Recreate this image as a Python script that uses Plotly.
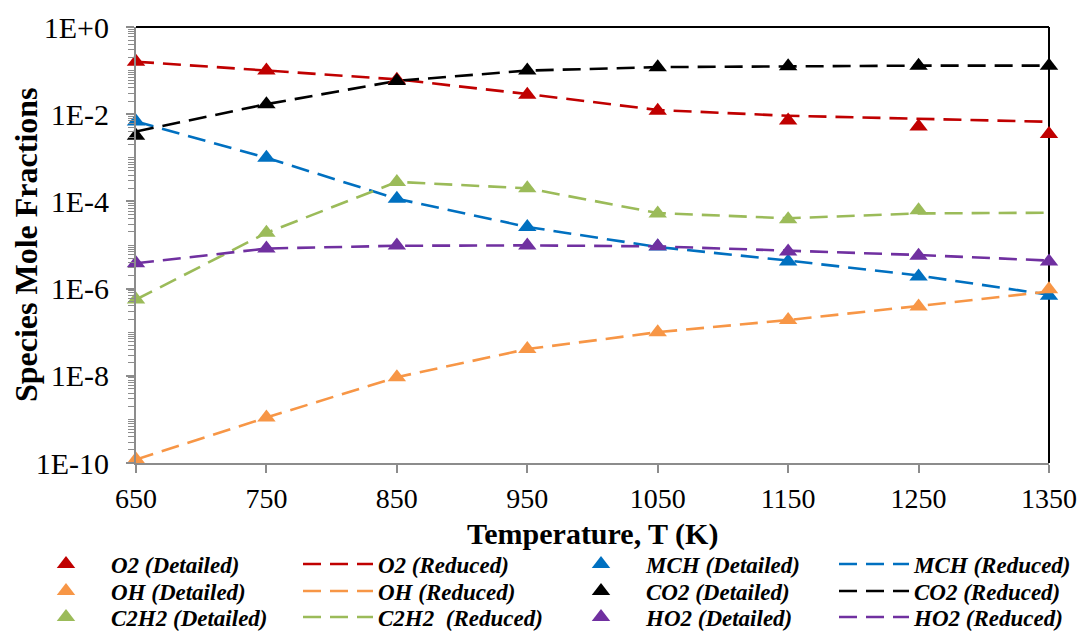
import plotly.graph_objects as go

# ---------------- data ----------------
temperature = [650, 750, 850, 950, 1050, 1150, 1250, 1350]

o2_detailed = [0.16, 0.10, 0.062, 0.028, 0.012, 0.0072, 0.0052, 0.0035]
o2_reduced = [0.16, 0.10, 0.063, 0.029, 0.0125, 0.0092, 0.0079, 0.0067]

mch_detailed = [0.0068, 0.001, 1.15e-4, 2.6e-5, 9.2e-6, 4.2e-6, 1.9e-6, 6.9e-7]
mch_reduced = [0.0068, 0.001, 1.15e-4, 2.6e-5, 9.0e-6, 4.4e-6, 2.0e-6, 7.2e-7]

oh_detailed = [1.2e-10, 1.1e-9, 9.3e-9, 4.1e-8, 1.0e-7, 1.9e-7, 3.9e-7, 9.6e-7]
oh_reduced = [1.2e-10, 1.1e-9, 9.3e-9, 4.1e-8, 1.0e-7, 1.9e-7, 4.0e-7, 8.6e-7]

co2_detailed = [0.0032, 0.017, 0.058, 0.10, 0.12, 0.125, 0.13, 0.13]
co2_reduced = [0.0040, 0.017, 0.058, 0.10, 0.12, 0.125, 0.13, 0.13]

c2h2_detailed = [5.6e-7, 1.9e-5, 2.8e-4, 2.0e-4, 5.3e-5, 3.9e-5, 6.3e-5, None]
c2h2_reduced = [5.6e-7, 1.9e-5, 2.8e-4, 2.0e-4, 5.4e-5, 4.1e-5, 5.3e-5, 5.5e-5]

ho2_detailed = [3.8e-6, 8.3e-6, 9.8e-6, 9.8e-6, 9.3e-6, 7.1e-6, 5.7e-6, 4.2e-6]
ho2_reduced = [3.8e-6, 8.3e-6, 9.6e-6, 9.8e-6, 9.3e-6, 7.5e-6, 5.9e-6, 4.4e-6]

y_tickvals = [1e0, 1e-2, 1e-4, 1e-6, 1e-8, 1e-10]
y_ticktext = ["1E+0", "1E-2", "1E-4", "1E-6", "1E-8", "1E-10"]
x_tickvals = [650, 750, 850, 950, 1050, 1150, 1250, 1350]

x_title = "Temperature, T (K)"
y_title = "Species Mole Fractions"

# ---------------- styling ----------------
FONT = "Liberation Serif, Times New Roman, serif"
C_O2, C_OH, C_C2H2 = "#C00000", "#F79646", "#9BBB59"
C_MCH, C_CO2, C_HO2 = "#0070C0", "#000000", "#7030A0"
GRAY = "#8C8C8C"
DASH = "18px,9px"

# plot area in pixels
L, R, T, B = 136, 1049.5, 27, 463.3
W, H = 1090, 632


def cx(p):
    return p / W


def cy(p):
    return 1 - p / H


def px(p):
    return (p - L) / (R - L)


def py(p):
    return (B - p) / (B - T)


series = [
    # (name, y, color, kind, legend column, legend row)
    ("O2 (Detailed)", o2_detailed, C_O2, "m", 0, 0),
    ("O2 (Reduced)", o2_reduced, C_O2, "l", 1, 0),
    ("MCH (Detailed)", mch_detailed, C_MCH, "m", 2, 0),
    ("MCH (Reduced)", mch_reduced, C_MCH, "l", 3, 0),
    ("OH (Detailed)", oh_detailed, C_OH, "m", 0, 1),
    ("OH (Reduced)", oh_reduced, C_OH, "l", 1, 1),
    ("CO2 (Detailed)", co2_detailed, C_CO2, "m", 2, 1),
    ("CO2 (Reduced)", co2_reduced, C_CO2, "l", 3, 1),
    ("C2H2 (Detailed)", c2h2_detailed, C_C2H2, "m", 0, 2),
    ("C2H2  (Reduced)", c2h2_reduced, C_C2H2, "l", 1, 2),
    ("HO2 (Detailed)", ho2_detailed, C_HO2, "m", 2, 2),
    ("HO2 (Reduced)", ho2_reduced, C_HO2, "l", 3, 2),
]

col_text_x = [112, 379, 647, 915]
row_y = [564, 591, 617]

fig = go.Figure()
layout_legends = {}
order = [i for i, s in enumerate(series) if s[3] == "l"] + [i for i, s in enumerate(series) if s[3] == "m"]
for k in order:
    name, yv, col, kind, c, r = series[k]
    lg = "legend" if k == 0 else f"legend{k + 1}"
    if kind == "m":
        tr = go.Scatter(x=temperature, y=yv, mode="markers", name=name,
                        marker=dict(symbol="triangle-up", size=16, color=col),
                        cliponaxis=False, legend=lg)
        itemw = 80
    else:
        tr = go.Scatter(x=temperature, y=yv, mode="lines", name=name,
                        line=dict(color=col, width=2.6, dash=DASH),
                        cliponaxis=False, legend=lg)
        itemw = 70
    fig.add_trace(tr)
    leg_left = col_text_x[c] - (itemw + 10) - 1
    layout_legends[lg] = dict(
        x=cx(leg_left), y=cy(row_y[r]), xanchor="left", yanchor="middle",
        xref="container", yref="container",
        bgcolor="rgba(0,0,0,0)", borderwidth=0, itemwidth=itemw,
        font=dict(family=FONT, size=23, color="black", style="italic", weight="bold"),
        tracegroupgap=0,
    )

fig.update_layout(
    width=W, height=H,
    margin=dict(l=L, r=W - R, t=T, b=H - B, pad=0, autoexpand=False),
    paper_bgcolor="white", plot_bgcolor="white",
    font=dict(family=FONT, color="black"),
    showlegend=True,
    **layout_legends,
)

fig.update_xaxes(
    range=[650, 1350], tickvals=x_tickvals, ticks="outside", ticklen=8,
    tickwidth=1.5, tickcolor=GRAY, showline=True, linecolor=GRAY, linewidth=2,
    showgrid=False, zeroline=False, ticklabelstandoff=1,
    tickfont=dict(family=FONT, size=28, color="black"),
)
fig.update_yaxes(
    type="log", range=[-10, 0], tickvals=y_tickvals, ticktext=y_ticktext,
    ticks="outside", ticklen=8, tickwidth=1.5, tickcolor=GRAY,
    minor=dict(ticks="outside", ticklen=6, tickcolor=GRAY, tickwidth=1, dtick="D1", showgrid=False),
    showline=True, linecolor=GRAY, linewidth=2, showgrid=False, zeroline=False,
    ticklabelstandoff=11,
    tickfont=dict(family=FONT, size=30, color="black"),
)

# axis titles
fig.add_annotation(text=f"<b>{x_title}</b>", xref="paper", yref="paper",
                   x=0.5, y=py(534), xanchor="center", yanchor="middle", showarrow=False,
                   font=dict(family=FONT, size=30, color="black"))
fig.add_annotation(text=f"<b>{y_title}</b>", xref="paper", yref="paper",
                   x=px(26), y=0.5, xanchor="center", yanchor="middle", showarrow=False,
                   textangle=-90, font=dict(family=FONT, size=32, color="black"))

fig.add_shape(type="line", xref="paper", yref="paper", x0=0, x1=1, y0=1, y1=1,
              line=dict(color="black", width=2), layer="above")
fig.add_shape(type="line", xref="paper", yref="paper", x0=1, x1=1, y0=0, y1=1,
              line=dict(color="black", width=2), layer="below")

fig.write_html("out.html")
